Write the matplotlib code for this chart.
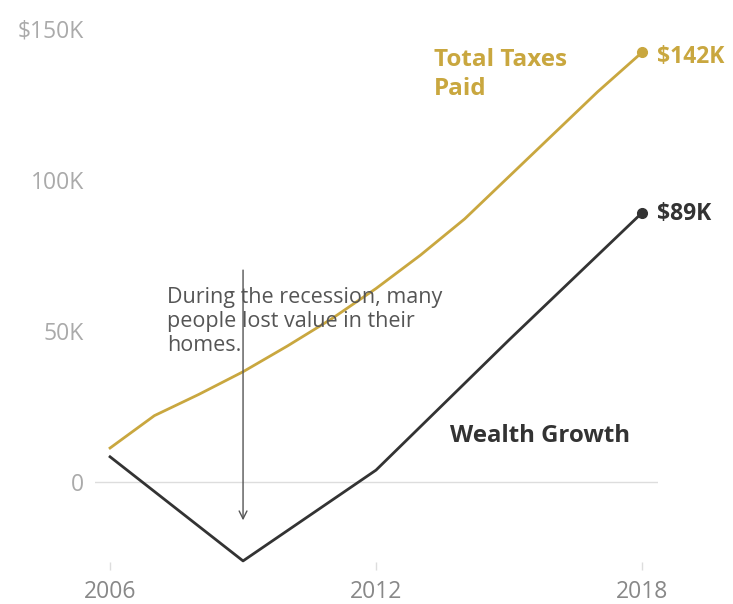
"""Налоги и рост благосостояния, 2006-2018."""
import matplotlib
matplotlib.use("Agg")
import matplotlib.pyplot as plt

plt.rcParams["font.family"] = ["Open Sans", "DejaVu Sans"]

# --- данные (тыс. $) ---
years = [2006, 2007, 2008, 2009, 2010, 2011, 2012, 2013, 2014, 2015, 2016, 2017, 2018]
taxes = [11.3, 22, 29, 36.5, 45, 54, 64, 75, 87, 101, 115, 129, 142]

wealth_years = [2006, 2009, 2012, 2015, 2018]
wealth = [8.4, -26, 4, 47, 89]

y_ticks = [0, 50, 100, 150]
y_labels = ["0", "50K", "100K", "$150K"]
x_ticks = [2006, 2012, 2018]

GOLD = "#C9A73F"
DARK = "#333333"
GREY = "#AAAAAA"

fig = plt.figure(figsize=(7.33, 6.04), dpi=100)
ax = fig.add_axes([0.1296, 0.0563, 0.768, 0.907])
ax.set_xlim(2005.66, 2018.36)
ax.set_ylim(-29, 152)

ax.axhline(0, color="#DDDDDD", lw=1, zorder=0)

ax.plot(years, taxes, color=GOLD, lw=2)
ax.plot(years[-1], taxes[-1], "o", color=GOLD, ms=7)
ax.plot(wealth_years, wealth, color=DARK, lw=2)
ax.plot(wealth_years[-1], wealth[-1], "o", color=DARK, ms=7)

for s in ax.spines.values():
    s.set_visible(False)
ax.set_yticks(y_ticks)
ax.set_yticklabels(y_labels)
ax.set_xticks(x_ticks)
ax.tick_params(axis="y", length=0, pad=8, labelsize=16.5, labelcolor=GREY)
ax.tick_params(axis="x", direction="in", length=6, width=1, color="#DDDDDD",
               pad=7, labelsize=16.5, labelcolor="#888888")

# подписи серий
ax.text(2013.31, 143.5, "Total Taxes\nPaid", color=GOLD, fontsize=17.5,
        fontweight="bold", va="top", ha="left", linespacing=1.3)
ax.text(2018.34, taxes[-1] - 1.5, "$142K", color=GOLD, fontsize=16.5,
        fontweight="bold", va="center", ha="left")
ax.text(2018.34, wealth[-1] - 0.5, "$89K", color=DARK, fontsize=16.5,
        fontweight="bold", va="center", ha="left")
ax.text(2013.67, 15.3, "Wealth Growth", color=DARK, fontsize=17.3,
        fontweight="bold", va="center", ha="left")

# аннотация с рецессией
ax.annotate("", xy=(2009, -13.5), xytext=(2009, 71),
            arrowprops=dict(arrowstyle="->", color="#555555", lw=1,
                            mutation_scale=14))
ax.text(2007.29, 64.5, "During the recession, many\npeople lost value in their\nhomes.",
        color="#555555", fontsize=15.5, va="top", ha="left", linespacing=1.2)

fig.savefig("out.png", dpi=100)
plt.close(fig)
